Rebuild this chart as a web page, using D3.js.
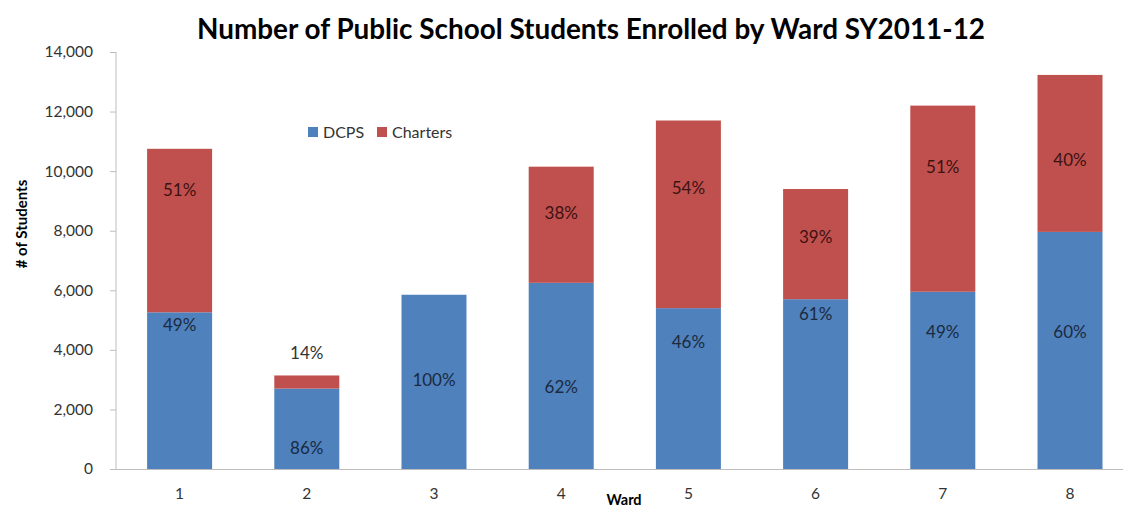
<!DOCTYPE html>
<html>
<head>
<meta charset="utf-8">
<script src="https://cdn.jsdelivr.net/npm/d3@7/dist/d3.min.js"></script>
<style>
  html, body { margin: 0; padding: 0; background: #ffffff; }
  svg { display: block; }
  text { font-family: Lato, "Open Sans", sans-serif; }
</style>
</head>
<body>
<svg id="chart" width="1123" height="510"></svg>
<script>
// ---- data ----
const title = "Number of Public School Students Enrolled by Ward SY2011-12";
const wards = ["1", "2", "3", "4", "5", "6", "7", "8"];
const seriesNames = ["DCPS", "Charters"];
const dcps =     [5260, 2700, 5850, 6250, 5400, 5700, 5950, 7960];
const charters = [5490,  440,    0, 3900, 6300, 3700, 6250, 5270];
const dcpsPct =     ["49%", "86%", "100%", "62%", "46%", "61%", "49%", "60%"];
const chartersPct = ["51%", "14%", "",     "38%", "54%", "39%", "51%", "40%"];
// label anchor heights, in student units (as placed in the original)
const dcpsLabelAt =     [4830, 720, 2990, 2760, 4270, 5200, 4610, 4610];
const chartersLabelAt = [9370, 3890, 0,    8600, 9430, 7790, 10150, 10370];
const yTicks = [0, 2000, 4000, 6000, 8000, 10000, 12000, 14000];
const yTitle = "# of Students";
const xTitle = "Ward";

// ---- layout ----
const colors = { DCPS: "#4f81bd", Charters: "#c0504d" };
const svg = d3.select("#chart");
const plotLeft = 116, baseline = 469, plotTop = 52;
const step = 127.2;
const pInner = 0.489;

const x = d3.scaleBand()
  .domain(wards)
  .range([plotLeft, plotLeft + step * wards.length])
  .paddingInner(pInner)
  .paddingOuter(pInner / 2);

const y = d3.scaleLinear().domain([0, 14000]).range([baseline, plotTop]);

// title
const t = svg.append("text")
  .attr("x", 591).attr("y", 39)
  .attr("text-anchor", "middle")
  .attr("font-weight", "bold")
  .attr("font-size", 22)
  .attr("fill", "#000")
  .text(title);
const tw = t.node().getComputedTextLength();
t.attr("font-size", 22 * 788 / tw);

// y axis
const yAxis = svg.append("g")
  .attr("transform", `translate(${plotLeft},0)`)
  .call(d3.axisLeft(y).tickValues(yTicks).tickFormat(d3.format(",")).tickSize(6).tickPadding(17));
yAxis.select(".domain").attr("stroke", "#bdbdbd").attr("d", `M0,${plotTop}V${baseline}`);
yAxis.selectAll(".tick line").attr("stroke", "#bdbdbd");
yAxis.selectAll(".tick text").attr("font-size", 15.5).attr("fill", "#333")
  .style("font-family", "Lato, sans-serif");

// x axis line
svg.append("line")
  .attr("x1", plotLeft).attr("x2", 1123)
  .attr("y1", baseline + 0.5).attr("y2", baseline + 0.5)
  .attr("stroke", "#bdbdbd");

// x tick labels
svg.append("g").selectAll("text").data(wards).join("text")
  .attr("x", d => x(d) + x.bandwidth() / 2)
  .attr("y", 499)
  .attr("text-anchor", "middle")
  .attr("font-size", 15.5)
  .attr("fill", "#333")
  .text(d => d);

// axis titles
svg.append("text")
  .attr("transform", `translate(27,224) rotate(-90)`)
  .attr("text-anchor", "middle")
  .attr("font-weight", "bold")
  .attr("font-size", 15)
  .attr("fill", "#000")
  .text(yTitle);

svg.append("text")
  .attr("x", 624).attr("y", 505)
  .attr("text-anchor", "middle")
  .attr("font-weight", "bold")
  .attr("font-size", 14.5)
  .attr("fill", "#000")
  .text(xTitle);

// stacked bars
const rows = wards.map((w, i) => ({ ward: w, DCPS: dcps[i], Charters: charters[i] }));
const stacked = d3.stack().keys(seriesNames)(rows);

svg.append("g").selectAll("g").data(stacked).join("g")
  .attr("fill", d => colors[d.key])
  .selectAll("rect").data(d => d).join("rect")
  .attr("x", d => x(d.data.ward))
  .attr("width", x.bandwidth())
  .attr("y", d => y(d[1]))
  .attr("height", d => y(d[0]) - y(d[1]));

// value labels
const labels = svg.append("g").attr("font-size", 17).attr("text-anchor", "middle");
labels.selectAll("text.d").data(wards).join("text")
  .attr("class", "d")
  .attr("x", d => x(d) + x.bandwidth() / 2)
  .attr("y", (d, i) => y(dcpsLabelAt[i]) + 6)
  .attr("fill", "#1b2a40")
  .text((d, i) => dcpsPct[i]);
labels.selectAll("text.c").data(wards).join("text")
  .attr("class", "c")
  .attr("x", d => x(d) + x.bandwidth() / 2)
  .attr("y", (d, i) => y(chartersLabelAt[i]) + 6)
  .attr("fill", (d, i) => i === 1 ? "#333" : "#3d1212")
  .text((d, i) => chartersPct[i]);

// legend
const legend = svg.append("g").attr("transform", "translate(308,132)");
const lg = legend.selectAll("g").data(seriesNames).join("g")
  .attr("transform", (d, i) => `translate(${i === 0 ? 0 : 69},0)`);
lg.append("rect").attr("x", 0).attr("y", -5).attr("width", 10).attr("height", 10)
  .attr("fill", d => colors[d]);
lg.append("text").attr("x", 15).attr("y", 6).attr("font-size", 16).attr("fill", "#333")
  .text(d => d);
</script>
</body>
</html>
